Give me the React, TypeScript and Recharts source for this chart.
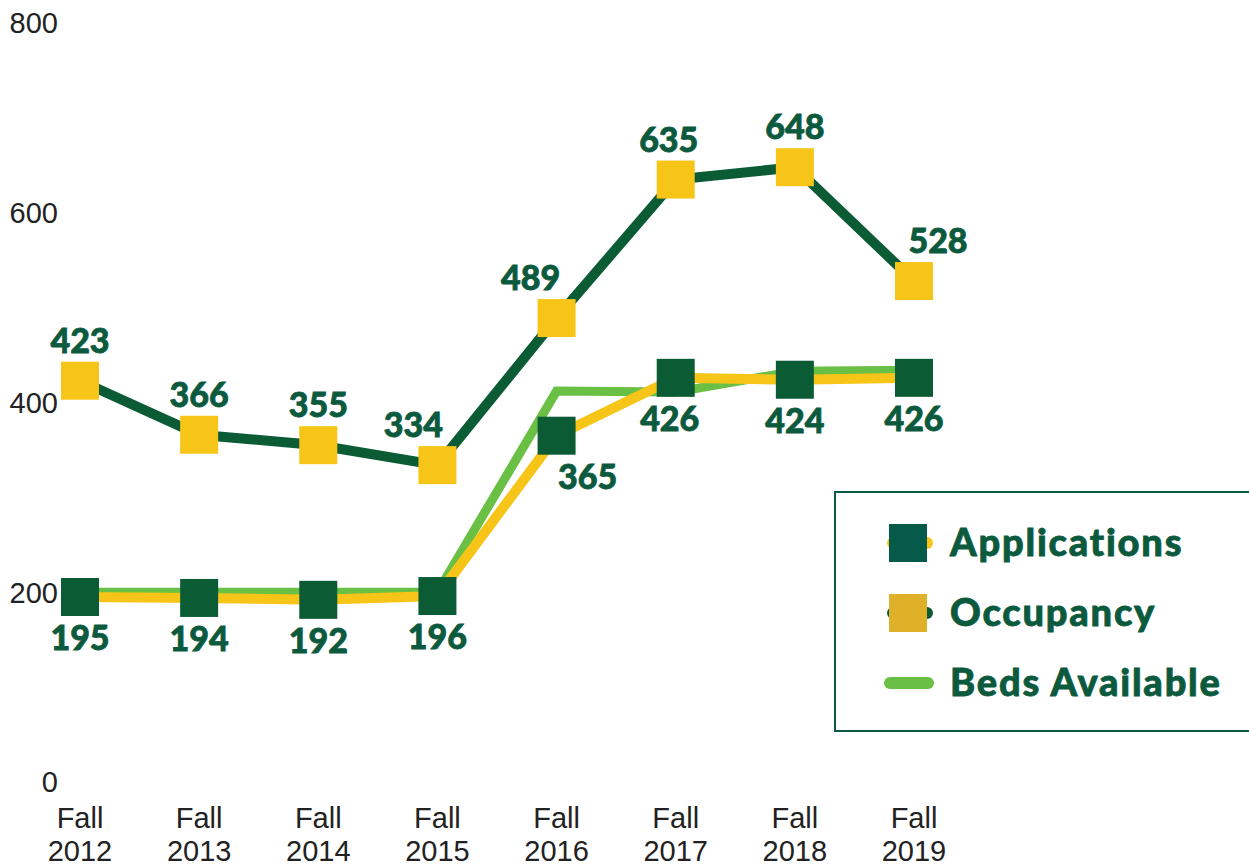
import React from 'react';
import { LineChart, Line, XAxis, YAxis, LabelList, Legend } from 'recharts';

const categories = ['Fall 2012', 'Fall 2013', 'Fall 2014', 'Fall 2015', 'Fall 2016', 'Fall 2017', 'Fall 2018', 'Fall 2019'];
const applications = [423, 366, 355, 334, 489, 635, 648, 528];
const occupancy = [195, 194, 192, 196, 365, 426, 424, 426];
const bedsAvailable = [200, 200, 200, 200, 412, 411, 433, 434];
const yTicks = [0, 200, 400, 600, 800];
const legendLabels = ['Applications', 'Occupancy', 'Beds Available'];

// label nudges (horizontal) per point, for readability as in the original
const appLabelDx = [0, 0, 0, -24, -26, -7, 0, 24];
const occLabelDx = [0, 0, 0, 0, 31, -6, 0, 0];

const DARK = '#0b5b35';
const YELLOW = '#f6c518';
const LIGHT = '#6abf45';
const TEXT_GREEN = '#0c5a3e';
const LEGEND_TEAL = '#055a4a';
const LEGEND_GOLD = '#deb128';

const data = categories.map((c, i) => ({
  name: c,
  applications: applications[i],
  occupancy: occupancy[i],
  beds: bedsAvailable[i],
}));

const SQ = 38;

const squareDot = (fill: string) => (props: any) => {
  const { cx, cy, index } = props;
  if (cx == null || cy == null) return <g key={`n${index}`} />;
  return <rect key={`d${index}`} x={cx - SQ / 2} y={cy - SQ / 2} width={SQ} height={SQ} fill={fill} />;
};

const makeLabel = (dxArr: number[], center: number) => (props: any) => {
  const { x, y, value, index } = props;
  if (x == null || y == null) return null;
  return (
    <text
      x={x + (dxArr[index] || 0)}
      y={y + center + 12}
      textAnchor="middle"
      fill={TEXT_GREEN}
      fontFamily="Lato, 'DejaVu Sans', sans-serif"
      fontWeight={900}
      fontSize={34}
      stroke={TEXT_GREEN}
      strokeWidth={0.8}
    >
      {value}
    </text>
  );
};

const XTick = (props: any) => {
  const { x, y, payload } = props;
  const parts = String(payload.value).split(' ');
  return (
    <text x={x} y={y} textAnchor="middle" fill="#222" fontSize={29} fontFamily="'Liberation Sans', Arial, sans-serif">
      <tspan x={x} dy={46}>{parts[0]}</tspan>
      <tspan x={x} dy={33}>{parts[1]}</tspan>
    </text>
  );
};

const LegendBox = () => {
  const rows = [52, 122, 192];
  return (
    <div style={{ width: 430, height: 241, border: `2px solid ${TEXT_GREEN}`, boxSizing: 'border-box', background: '#fff' }}>
      <svg width={426} height={237} style={{ display: 'block' }}>
        {/* Applications */}
        <line x1={57} x2={91} y1={rows[0] - 2} y2={rows[0] - 2} stroke={YELLOW} strokeWidth={12} strokeLinecap="round" />
        <rect x={53} y={rows[0] - 2 - 19} width={38} height={38} fill={LEGEND_TEAL} />
        {/* Occupancy */}
        <line x1={57} x2={91} y1={rows[1] - 2} y2={rows[1] - 2} stroke={DARK} strokeWidth={12} strokeLinecap="round" />
        <rect x={53} y={rows[1] - 2 - 19} width={38} height={38} fill={LEGEND_GOLD} />
        {/* Beds */}
        <line x1={54} x2={92} y1={rows[2] - 2} y2={rows[2] - 2} stroke={LIGHT} strokeWidth={12} strokeLinecap="round" />
        {legendLabels.map((l, i) => (
          <text
            key={l}
            x={114}
            y={rows[i] + 11}
            fill={TEXT_GREEN}
            stroke={TEXT_GREEN}
            strokeWidth={0.8}
            fontFamily="Lato, 'DejaVu Sans', sans-serif"
            fontWeight={900}
            fontSize={38}
            letterSpacing={1.8}
          >
            {l}
          </text>
        ))}
      </svg>
    </div>
  );
};

export default function App() {
  return (
    <div style={{ position: 'absolute', left: 0, top: 0, width: 1249, height: 868, overflow: 'hidden', background: '#fff' }}>
      <LineChart width={1249} height={868} data={data} margin={{ top: 23, right: 335, left: 0, bottom: 0 }}>
        <XAxis
          dataKey="name"
          axisLine={false}
          tickLine={false}
          tickSize={0}
          tickMargin={0}
          height={86}
          interval={0}
          tick={<XTick />}
        />
        <YAxis
          domain={[0, 800]}
          ticks={yTicks}
          axisLine={false}
          tickLine={false}
          tickSize={0}
          tickMargin={22}
          width={80}
          tick={{ fill: '#222', fontSize: 29, fontFamily: "'Liberation Sans', Arial, sans-serif" }}
        />
        <Legend layout="vertical" align="center" verticalAlign="middle" wrapperStyle={{ position: 'absolute', left: 834, top: 491, width: 430, height: 241 }} content={<LegendBox />} />
        <Line
          dataKey="beds"
          stroke={LIGHT}
          strokeWidth={9}
          dot={false}
          activeDot={false}
          isAnimationActive={false}
          strokeLinejoin="miter"
        />
        <Line
          dataKey="occupancy"
          stroke={YELLOW}
          strokeWidth={10}
          dot={squareDot(DARK)}
          activeDot={false}
          isAnimationActive={false}
        >
          <LabelList dataKey="occupancy" content={makeLabel(occLabelDx, 41)} />
        </Line>
        <Line
          dataKey="applications"
          stroke={DARK}
          strokeWidth={10}
          dot={squareDot(YELLOW)}
          activeDot={false}
          isAnimationActive={false}
        >
          <LabelList dataKey="applications" content={makeLabel(appLabelDx, -40)} />
        </Line>
      </LineChart>
    </div>
  );
}
